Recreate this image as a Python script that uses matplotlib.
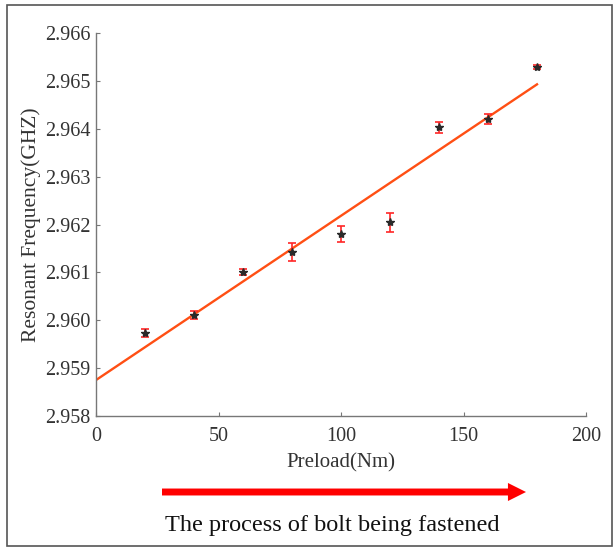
import numpy as np
import matplotlib
matplotlib.use("Agg")
import matplotlib.pyplot as plt
from matplotlib.patches import Rectangle

plt.rcParams['font.family'] = ['Liberation Serif', 'DejaVu Serif']

preload = [20, 40, 60, 80, 100, 120, 140, 160, 180]
freq = [2.95973, 2.96011, 2.96101, 2.96142, 2.96180, 2.96205, 2.96403, 2.96420, 2.96529]
err = [0.00008, 0.00008, 0.00007, 0.00019, 0.00017, 0.00020, 0.00012, 0.00010, 0.00005]
xticks = [0, 50, 100, 150, 200]
yticks = [2.958, 2.959, 2.960, 2.961, 2.962, 2.963, 2.964, 2.965, 2.966]
fit_range = [0, 180]

fig = plt.figure(figsize=(6.15, 5.52), dpi=100)
ax = fig.add_axes([96/615, (552-416)/552, 490/615, 383/552])

coef = np.polyfit(preload, freq, 1)
xf = np.array(fit_range, dtype=float)
ax.plot(xf, np.polyval(coef, xf), color='#FF4F14', lw=1.7, zorder=2)

ax.errorbar(preload, freq, yerr=err, fmt='none', ecolor='#FF2626', elinewidth=1.2,
            capsize=3, capthick=1.2, zorder=3)
ax.plot(preload, freq, ls='none', marker='*', color='#2a2a2a', markersize=6, zorder=4)

ax.set_xlim(0, 200)
ax.set_ylim(2.958, 2.966)
ax.set_xticks(xticks)
ax.set_yticks(yticks)
ax.set_xticklabels([str(v) for v in xticks])
ax.set_yticklabels([f"{v:.3f}" for v in yticks])
for s in ['top', 'right']:
    ax.spines[s].set_visible(False)
for s in ['left', 'bottom']:
    ax.spines[s].set_color('#777777')
    ax.spines[s].set_linewidth(1.0)
ax.tick_params(direction='in', length=3, width=0.8, color='#777777', labelsize=14.5,
               labelcolor='#333333')
ax.tick_params(axis='y', pad=4)
ax.tick_params(axis='x', pad=8)
ax.set_xlabel('Preload(Nm)', fontsize=15, color='#333333', labelpad=5)
ax.set_ylabel('Resonant Frequency(GHZ)', fontsize=15.5, color='#333333', labelpad=3)

# arrow and caption
ax.annotate('', xy=(526/615, (552-492)/552), xytext=(162/615, (552-492)/552),
            xycoords='figure fraction', textcoords='figure fraction',
            arrowprops=dict(arrowstyle='simple,head_length=13,head_width=13,tail_width=5',
                            mutation_scale=1, color='red', shrinkA=0, shrinkB=0,
                            lw=0))
fig.text(332/615, (552-525)/552, 'The process of bolt being fastened', ha='center',
         va='center', fontsize=17.5, color='#111111')

fig.add_artist(Rectangle((7/615, 6/552), 605/615, 541/552, transform=fig.transFigure,
                         fill=False, edgecolor='#555555', lw=1.2))

fig.savefig('out.png', dpi=100)
